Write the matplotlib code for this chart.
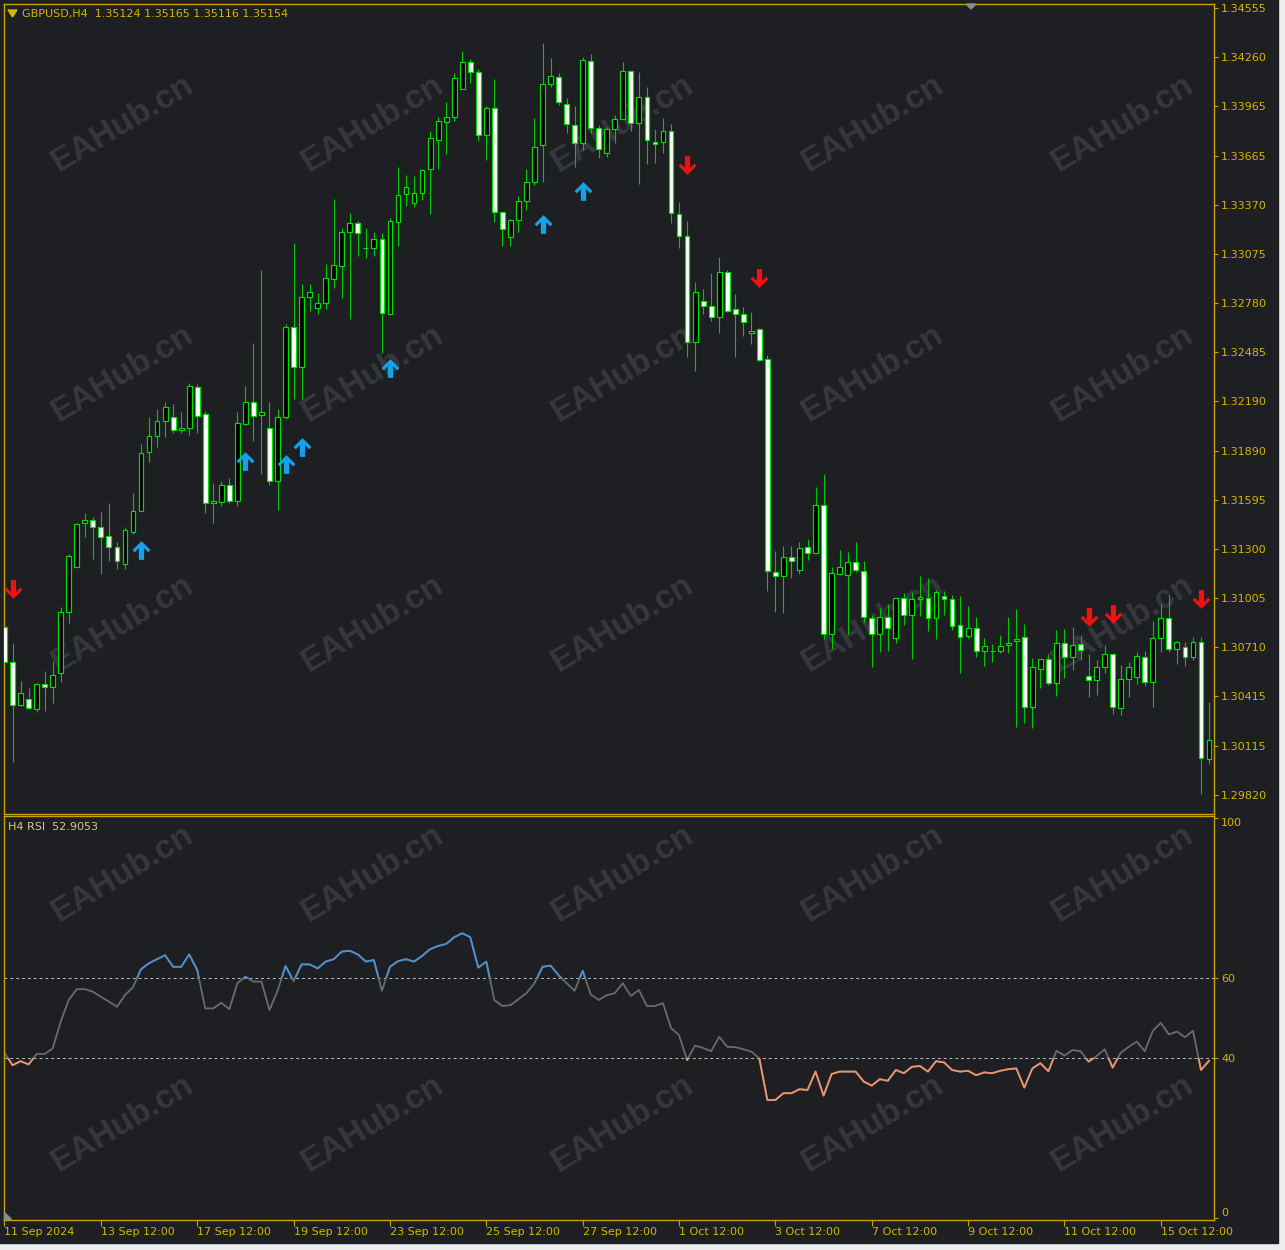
import numpy as np
import matplotlib.pyplot as plt
from matplotlib.path import Path
from matplotlib.patches import Rectangle, Polygon

W, H = 1285, 1250
BG = '#1e1f23'
GOLD = '#c8a200'
TXT = '#d6b600'
WICK = '#00c800'
EDGE = '#00e000'

# GBPUSD H4 candles (bar 0 = 11 Sep 2024)
opens = [1.30831, 1.30620, 1.30361, 1.30397, 1.30337, 1.30488, 1.30470, 1.30554, 1.30921, 1.31192,
         1.31457, 1.31475, 1.31433, 1.31378, 1.31312, 1.31210, 1.31402, 1.31529, 1.31883, 1.31979,
         1.32070, 1.32094, 1.32015, 1.32027, 1.32275, 1.32112, 1.31577, 1.31583, 1.31685, 1.31589,
         1.32052, 1.32184, 1.32106, 1.32027, 1.31709, 1.32094, 1.32636, 1.32395, 1.32816, 1.32750,
         1.32780, 1.32925, 1.33003, 1.33207, 1.33262, 1.33111, 1.33111, 1.33165, 1.32714, 1.33268,
         1.33435, 1.33382, 1.33441, 1.33586, 1.33760, 1.33867, 1.33898, 1.34067, 1.34230, 1.34170,
         1.33790, 1.33953, 1.33328, 1.33177, 1.33280, 1.33394, 1.33508, 1.33730, 1.34098, 1.34140,
         1.33977, 1.33851, 1.33743, 1.34236, 1.33831, 1.33682, 1.33826, 1.33887, 1.34176, 1.33863,
         1.34019, 1.33748, 1.33748, 1.33814, 1.33316, 1.33183, 1.32545, 1.32792, 1.32762, 1.32696,
         1.32967, 1.32744, 1.32714, 1.32599, 1.32623, 1.32443, 1.31162, 1.31137, 1.31252, 1.31174,
         1.31312, 1.31276, 1.31565, 1.30788, 1.31150, 1.31144, 1.31221, 1.31168, 1.30885, 1.30788,
         1.30891, 1.30764, 1.31005, 1.30903, 1.30999, 1.31005, 1.30885, 1.31017, 1.30999, 1.30843,
         1.30776, 1.30825, 1.30686, 1.30686, 1.30686, 1.30722, 1.30746, 1.30770, 1.30349, 1.30578,
         1.30638, 1.30494, 1.30734, 1.30650, 1.30728, 1.30536, 1.30512, 1.30590, 1.30668, 1.30343,
         1.30518, 1.30530, 1.30650, 1.30500, 1.30764, 1.30885, 1.30698, 1.30710, 1.30650, 1.30740,
         1.30036]
highs = [1.30981, 1.30734, 1.30506, 1.30464, 1.30494, 1.30566, 1.30626, 1.30951, 1.31270, 1.31457,
         1.31517, 1.31493, 1.31523, 1.31577, 1.31342, 1.31433, 1.31636, 1.31931, 1.32094, 1.32142,
         1.32184, 1.32172, 1.32124, 1.32299, 1.32293, 1.32130, 1.31697, 1.31709, 1.31727, 1.32124,
         1.32281, 1.32539, 1.32979, 1.32184, 1.32142, 1.32654, 1.33141, 1.32895, 1.32895, 1.32840,
         1.33015, 1.33405, 1.33232, 1.33322, 1.33274, 1.33232, 1.33207, 1.33201, 1.33292, 1.33598,
         1.33550, 1.33544, 1.33586, 1.33814, 1.33898, 1.33989, 1.34164, 1.34296, 1.34248, 1.34188,
         1.33965, 1.34128, 1.33328, 1.33286, 1.33423, 1.33586, 1.33893, 1.34344, 1.34254, 1.34164,
         1.34013, 1.33965, 1.34260, 1.34278, 1.33849, 1.33838, 1.33911, 1.34230, 1.34176, 1.34170,
         1.34080, 1.33826, 1.33893, 1.33856, 1.33388, 1.33274, 1.32907, 1.32864, 1.32961, 1.33057,
         1.32979, 1.32834, 1.32756, 1.32726, 1.32629, 1.32467, 1.31288, 1.31318, 1.31318, 1.31342,
         1.31360, 1.31673, 1.31751, 1.31192, 1.31294, 1.31282, 1.31342, 1.31228, 1.30903, 1.30945,
         1.30969, 1.31005, 1.31035, 1.31041, 1.31137, 1.31126, 1.31053, 1.31047, 1.31023, 1.31017,
         1.30957, 1.30891, 1.30764, 1.30728, 1.30782, 1.30891, 1.30939, 1.30849, 1.30644, 1.30638,
         1.30668, 1.30812, 1.30818, 1.30831, 1.30782, 1.30668, 1.30632, 1.30722, 1.30674, 1.30602,
         1.30620, 1.30680, 1.30686, 1.30867, 1.30969, 1.31029, 1.30746, 1.30740, 1.30770, 1.30770,
         1.30379]
lows = [1.30470, 1.30018, 1.30355, 1.30337, 1.30319, 1.30325, 1.30373, 1.30500, 1.30855, 1.31192,
        1.31372, 1.31240, 1.31150, 1.31228, 1.31180, 1.31180, 1.31390, 1.31529, 1.31823, 1.31913,
        1.31973, 1.31997, 1.31997, 1.31985, 1.31997, 1.31517, 1.31457, 1.31559, 1.31577, 1.31559,
        1.32046, 1.31949, 1.31751, 1.31685, 1.31535, 1.32082, 1.32202, 1.32202, 1.32732, 1.32714,
        1.32744, 1.32871, 1.32810, 1.32684, 1.33063, 1.33051, 1.33063, 1.32479, 1.32714, 1.33123,
        1.33364, 1.33358, 1.33400, 1.33316, 1.33586, 1.33676, 1.33873, 1.34067, 1.34104, 1.33754,
        1.33640, 1.33268, 1.33123, 1.33123, 1.33207, 1.33340, 1.33490, 1.33508, 1.34080, 1.33971,
        1.33803, 1.33598, 1.33701, 1.33803, 1.33652, 1.33658, 1.33743, 1.33887, 1.33814, 1.33496,
        1.33616, 1.33622, 1.33682, 1.33262, 1.33111, 1.32455, 1.32371, 1.32714, 1.32672, 1.32599,
        1.32726, 1.32455, 1.32581, 1.32533, 1.32431, 1.31047, 1.30921, 1.30915, 1.31126, 1.31150,
        1.31234, 1.31276, 1.30758, 1.30698, 1.31144, 1.30788, 1.31162, 1.30861, 1.30590, 1.30680,
        1.30686, 1.30734, 1.30843, 1.30638, 1.30897, 1.30806, 1.30758, 1.30903, 1.30812, 1.30554,
        1.30764, 1.30650, 1.30596, 1.30620, 1.30674, 1.30674, 1.30229, 1.30253, 1.30223, 1.30464,
        1.30482, 1.30415, 1.30524, 1.30572, 1.30632, 1.30409, 1.30421, 1.30554, 1.30307, 1.30301,
        1.30409, 1.30488, 1.30476, 1.30349, 1.30680, 1.30680, 1.30608, 1.30596, 1.30632, 1.29825,
        1.30006]
closes = [1.30620, 1.30361, 1.30433, 1.30343, 1.30488, 1.30470, 1.30542, 1.30921, 1.31258, 1.31451,
          1.31475, 1.31433, 1.31372, 1.31312, 1.31228, 1.31414, 1.31529, 1.31877, 1.31979, 1.32070,
          1.32154, 1.32015, 1.32027, 1.32281, 1.32100, 1.31577, 1.31589, 1.31685, 1.31589, 1.32058,
          1.32184, 1.32100, 1.32124, 1.31709, 1.32094, 1.32636, 1.32395, 1.32816, 1.32846, 1.32780,
          1.32931, 1.33009, 1.33207, 1.33262, 1.33201, 1.33111, 1.33165, 1.32720, 1.33274, 1.33429,
          1.33478, 1.33441, 1.33580, 1.33772, 1.33873, 1.33898, 1.34134, 1.34230, 1.34170, 1.33790,
          1.33953, 1.33328, 1.33226, 1.33280, 1.33394, 1.33508, 1.33718, 1.34098, 1.34146, 1.33989,
          1.33857, 1.33743, 1.34242, 1.33831, 1.33706, 1.33826, 1.33887, 1.34176, 1.33863, 1.34019,
          1.33760, 1.33736, 1.33814, 1.33322, 1.33183, 1.32545, 1.32846, 1.32762, 1.32696, 1.32967,
          1.32732, 1.32714, 1.32666, 1.32611, 1.32437, 1.31168, 1.31137, 1.31252, 1.31228, 1.31306,
          1.31276, 1.31565, 1.30788, 1.31156, 1.31192, 1.31221, 1.31174, 1.30891, 1.30788, 1.30891,
          1.30825, 1.31005, 1.30903, 1.30999, 1.31011, 1.30885, 1.31041, 1.30999, 1.30837, 1.30770,
          1.30825, 1.30686, 1.30716, 1.30686, 1.30716, 1.30734, 1.30758, 1.30349, 1.30590, 1.30638,
          1.30494, 1.30734, 1.30650, 1.30722, 1.30692, 1.30512, 1.30590, 1.30668, 1.30349, 1.30518,
          1.30590, 1.30656, 1.30500, 1.30764, 1.30885, 1.30698, 1.30740, 1.30650, 1.30740, 1.30042,
          1.30150]

# RSI(14) per bar
rsi = [41.3, 38.2, 39.2, 38.4, 41.0, 41.0, 42.4, 49.1, 54.5, 57.2,
       57.2, 56.6, 55.3, 54.1, 52.8, 55.7, 57.7, 62.2, 63.7, 64.7,
       65.7, 62.8, 62.8, 65.9, 62.0, 52.4, 52.4, 53.8, 52.2, 58.7,
       60.3, 59.1, 59.1, 52.0, 56.8, 63.0, 59.2, 63.4, 63.4, 62.4,
       64.1, 64.7, 66.6, 66.8, 65.9, 64.1, 64.5, 56.8, 62.8, 64.2,
       64.7, 64.1, 65.5, 67.2, 68.0, 68.5, 70.2, 71.2, 70.2, 62.6,
       64.1, 54.5, 53.0, 53.2, 54.7, 56.2, 58.7, 62.8, 63.1, 60.7,
       58.7, 56.8, 61.8, 55.9, 54.5, 55.7, 56.2, 58.7, 55.5, 57.0,
       53.0, 53.0, 53.7, 47.5, 45.7, 39.5, 43.1, 42.5, 41.7, 45.3,
       42.8, 42.7, 42.2, 41.6, 39.9, 29.5, 29.5, 31.2, 31.2, 32.2,
       32.0, 36.6, 30.6, 36.0, 36.6, 36.6, 36.6, 34.1, 33.1, 34.7,
       34.3, 37.0, 36.2, 37.8, 38.0, 36.6, 39.2, 38.9, 37.0, 36.6,
       36.8, 35.7, 36.4, 36.2, 36.8, 37.2, 37.4, 32.6, 37.4, 38.7,
       36.7, 41.8, 40.6, 42.0, 41.7, 39.1, 40.5, 42.2, 37.6, 41.3,
       42.8, 44.1, 41.7, 46.8, 48.8, 45.9, 46.6, 45.2, 46.8, 37.0,
       39.3]

# signal arrows: bar index and price level
buy_idx = [17, 30, 35, 37, 48, 67, 72]
buy_px = [1.31294, 1.31829, 1.31811, 1.31913, 1.32389, 1.33256, 1.33453]
sell_idx = [1, 85, 94, 135, 138, 149]
sell_px = [1.31060, 1.33610, 1.32931, 1.30891, 1.30909, 1.30999]

price_ticks = [1.29820, 1.30115, 1.30415, 1.30710, 1.31005, 1.31300, 1.31595, 1.31890, 1.32190,
               1.32485, 1.32780, 1.33075, 1.33370, 1.33665, 1.33965, 1.34260, 1.34555]
date_ticks = [0, 12, 24, 36, 48, 60, 72, 84, 96, 108, 120, 132, 144]
date_labels = ['11 Sep 2024', '13 Sep 12:00', '17 Sep 12:00', '19 Sep 12:00', '23 Sep 12:00',
               '25 Sep 12:00', '27 Sep 12:00', '1 Oct 12:00', '3 Oct 12:00', '7 Oct 12:00',
               '9 Oct 12:00', '11 Oct 12:00', '15 Oct 12:00']
rsi_ticks = [0, 40, 60, 100]


def fx(x):
    return x / W


def fy(y):
    return 1 - y / H


fig = plt.figure(figsize=(W / 100, H / 100), dpi=100, facecolor=BG)

# light window strips at right and bottom edges
fig.patches.append(Rectangle((fx(1278), 0), 1, 1, transform=fig.transFigure, color='#eeeef1', zorder=-5))
fig.patches.append(Rectangle((0, 0), 1, 1 - fy(1243), transform=fig.transFigure, color='#eeeef1', zorder=-5))
fig.patches.append(Rectangle((0, fy(1243)), fx(1278), 1, transform=fig.transFigure, color=BG, zorder=-4))

ax = fig.add_axes([fx(4), fy(814), fx(1210), 810 / H])
ax2 = fig.add_axes([fx(4), fy(1220), fx(1210), 404 / H])
for a in (ax, ax2):
    a.set_facecolor('none')
    for s in a.spines.values():
        s.set_color(GOLD)
        s.set_linewidth(1.0)
    a.set_xlim(-0.062, 150.62)

idx = np.arange(len(opens))
o = np.array(opens)
c = np.array(closes)
bull = c >= o

# wicks, then bodies
ax.vlines(idx, lows, highs, color=WICK, linewidth=0.8, zorder=2)
ax.bar(idx, np.abs(c - o), bottom=np.minimum(o, c), width=0.6,
       color=np.where(bull, '#000000', '#ffffff'), edgecolor=EDGE, linewidth=0.85, zorder=3)

# arrow markers
up = Path([(0, 1), (0.95, 0.05), (0.72, -0.2), (0.28, 0.25), (0.28, -1), (-0.28, -1),
           (-0.28, 0.25), (-0.72, -0.2), (-0.95, 0.05), (0, 1)], closed=True)
down = Path([(x, -y) for x, y in up.vertices], closed=True)
ax.plot(buy_idx, buy_px, linestyle='none', marker=up, markersize=13.5,
        color='#16a2ea', markeredgewidth=0, zorder=4)
ax.plot(sell_idx, sell_px, linestyle='none', marker=down, markersize=13.5,
        color='#f01212', markeredgewidth=0, zorder=4)

ax.set_ylim(1.29705, 1.34579)
ax.yaxis.tick_right()
ax.set_yticks(price_ticks)
ax.set_yticklabels([f'{p:.5f}' for p in price_ticks])
ax.tick_params(axis='y', length=3, width=0.8, color=GOLD, labelcolor=TXT, labelsize=8, pad=2)
ax.set_xticks([])

# RSI panel
ax2.set_ylim(-0.5, 100.5)
for lvl in (60, 40):
    ax2.axhline(lvl, color='#bdbdbd', linewidth=0.7, linestyle=(0, (3, 3)), zorder=1)
ax2.plot(idx, rsi, color='#6b6b6b', linewidth=1.3, zorder=2)
hi = ax2.plot(idx, rsi, color='#4d8fd0', linewidth=1.3, zorder=3)[0]
hi.set_clip_path(Rectangle((-1, 60), 160, 50, transform=ax2.transData))
lo = ax2.plot(idx, rsi, color='#f2936b', linewidth=1.3, zorder=3)[0]
lo.set_clip_path(Rectangle((-1, -10), 160, 50, transform=ax2.transData))

ax2.yaxis.tick_right()
ax2.set_yticks(rsi_ticks)
ax2.set_yticklabels([str(v) for v in rsi_ticks])
ax2.tick_params(axis='y', length=3, width=0.8, color=GOLD, labelcolor=TXT, labelsize=8, pad=2)
yt = ax2.yaxis.get_major_ticks()
yt[0].label2.set_va('bottom')
yt[-1].label2.set_va('top')

ax2.set_xticks(date_ticks)
ax2.set_xticklabels(date_labels, ha='left')
ax2.tick_params(axis='x', length=4, width=0.8, color=GOLD, labelcolor=TXT, labelsize=8, pad=1)

# headers
fig.patches.append(Polygon([(fx(8), fy(10)), (fx(17), fy(10)), (fx(12.5), fy(17))],
                           closed=True, transform=fig.transFigure, color=TXT))
fig.text(fx(22), fy(14), 'GBPUSD,H4  1.35124 1.35165 1.35116 1.35154',
         color=TXT, fontsize=8, va='center', ha='left')
fig.text(fx(8), fy(827), 'H4 RSI  52.9053', color='#d6c890', fontsize=8, va='center', ha='left')

# small grey markers (chart shift / scroll)
fig.patches.append(Polygon([(fx(966), fy(4)), (fx(976), fy(4)), (fx(971), fy(9))],
                           closed=True, transform=fig.transFigure, color='#8a8a8a'))
fig.patches.append(Polygon([(fx(4), fy(1212)), (fx(4), fy(1219)), (fx(11), fy(1219))],
                           closed=True, transform=fig.transFigure, color='#8a8a8a'))

# watermark
for r in range(5):
    for col in range(5):
        fig.text(fx(123 + 250 * col), fy(124 + 250 * r), 'EAHub.cn', rotation=31,
                 ha='center', va='center', fontsize=24, fontweight='bold',
                 family='Liberation Sans', color='#37383d', zorder=-1)

fig.savefig('out.png', dpi=100, facecolor=BG)
